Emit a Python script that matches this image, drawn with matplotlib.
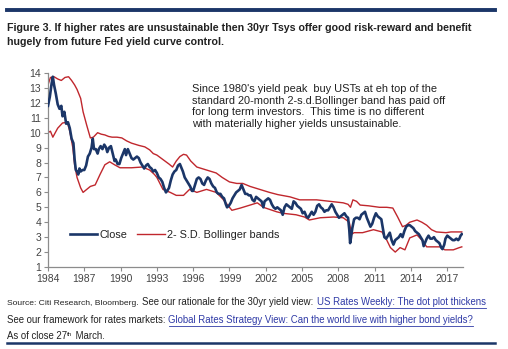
import numpy as np
import matplotlib

matplotlib.use("Agg")
import matplotlib.pyplot as plt
from matplotlib.lines import Line2D

NAVY = "#1b3668"
RED = "#c0272d"
INK = "#222222"
TICK = "#444444"
SPINE = "#8c8c8c"
LINK = "#2f3aa6"

plt.rcParams.update({
    "font.family": ["Liberation Sans", "DejaVu Sans"],
    "font.size": 7.5,
})

# ---- data (30yr UST yield, %) -----------------------------------------------
close_t = [
    1984.0, 1984.15, 1984.3, 1984.4, 1984.5, 1984.65, 1984.8, 1984.95, 1985.1, 1985.2,
    1985.35, 1985.5, 1985.65, 1985.8, 1985.95, 1986.1, 1986.2, 1986.3, 1986.4, 1986.5,
    1986.6, 1986.7, 1986.85, 1987.0, 1987.15, 1987.3, 1987.45, 1987.6, 1987.7, 1987.8,
    1987.95, 1988.1, 1988.2, 1988.35, 1988.5, 1988.65, 1988.8, 1988.9, 1989.05, 1989.2,
    1989.35, 1989.5, 1989.6, 1989.75, 1989.9, 1990.05, 1990.2, 1990.35, 1990.45, 1990.6,
    1990.75, 1990.9, 1991.05, 1991.2, 1991.35, 1991.5, 1991.65, 1991.8, 1991.95, 1992.1,
    1992.25, 1992.4, 1992.55, 1992.7, 1992.85, 1993.0, 1993.15, 1993.3, 1993.45, 1993.6,
    1993.75, 1993.85, 1994.0, 1994.15, 1994.3, 1994.45, 1994.6, 1994.75, 1994.9, 1995.0,
    1995.15, 1995.3, 1995.45, 1995.6, 1995.75, 1995.9, 1996.0, 1996.15, 1996.3, 1996.45,
    1996.6, 1996.75, 1996.9, 1997.05, 1997.2, 1997.35, 1997.5, 1997.65, 1997.8, 1997.95,
    1998.1, 1998.25, 1998.4, 1998.55, 1998.7, 1998.8, 1998.95, 1999.1, 1999.25, 1999.4,
    1999.55, 1999.7, 1999.85, 2000.0, 2000.15, 2000.3, 2000.45, 2000.6, 2000.75, 2000.9,
    2001.05, 2001.2, 2001.35, 2001.5, 2001.65, 2001.8, 2001.9, 2002.05, 2002.2, 2002.35,
    2002.5, 2002.65, 2002.8, 2002.95, 2003.1, 2003.25, 2003.4, 2003.55, 2003.7, 2003.85,
    2004.0, 2004.15, 2004.3, 2004.45, 2004.6, 2004.75, 2004.9, 2005.05, 2005.2, 2005.35,
    2005.5, 2005.65, 2005.8, 2005.95, 2006.1, 2006.25, 2006.4, 2006.55, 2006.7, 2006.85,
    2007.0, 2007.15, 2007.3, 2007.45, 2007.6, 2007.75, 2007.9, 2008.05, 2008.2, 2008.35,
    2008.5, 2008.65, 2008.8, 2008.9, 2008.97, 2009.05, 2009.15, 2009.3, 2009.45, 2009.6,
    2009.75, 2009.9, 2010.05, 2010.2, 2010.35, 2010.5, 2010.65, 2010.8, 2010.95, 2011.1,
    2011.25, 2011.4, 2011.55, 2011.7, 2011.8, 2011.95, 2012.1, 2012.25, 2012.4, 2012.55,
    2012.7, 2012.85, 2013.0, 2013.15, 2013.3, 2013.45, 2013.6, 2013.75, 2013.9, 2014.05,
    2014.2, 2014.35, 2014.5, 2014.65, 2014.8, 2014.95, 2015.05, 2015.15, 2015.3, 2015.45,
    2015.6, 2015.75, 2015.9, 2016.05, 2016.2, 2016.35, 2016.5, 2016.6, 2016.75, 2016.85,
    2017.0, 2017.15, 2017.3, 2017.45, 2017.6, 2017.75, 2017.9, 2018.0, 2018.1, 2018.2,
]
close_v = [
    11.8, 12.4, 13.3, 13.75, 13.2, 12.6, 11.9, 11.6, 11.8, 11.1,
    11.4, 10.6, 10.7, 10.3, 9.6, 9.3, 8.2, 7.5, 7.4, 7.2,
    7.6, 7.4, 7.5, 7.5, 7.8, 8.4, 8.6, 9.0, 9.6, 8.9,
    8.9, 8.6, 8.9, 9.1, 8.9, 9.2, 9.0, 8.7, 9.0, 9.1,
    8.6, 8.1, 8.2, 7.9, 7.9, 8.3, 8.6, 8.9, 8.5, 8.9,
    8.6, 8.3, 8.2, 8.3, 8.4, 8.3, 8.0, 7.8, 7.6, 7.8,
    7.9, 7.7, 7.6, 7.4, 7.5, 7.3, 7.0, 6.9, 6.7, 6.3,
    6.0, 6.1, 6.3, 6.8, 7.2, 7.4, 7.5, 7.8, 7.9, 7.7,
    7.4, 7.0, 6.8, 6.6, 6.4, 6.1, 6.1, 6.5, 6.9, 7.0,
    6.9, 6.6, 6.5, 6.8, 7.0, 6.9, 6.6, 6.4, 6.3, 6.0,
    5.9, 5.9, 5.7, 5.6, 5.2, 5.0, 5.1, 5.3, 5.6, 5.8,
    6.0, 6.1, 6.2, 6.5, 6.2, 5.9, 5.9, 5.8, 5.8, 5.5,
    5.4, 5.7, 5.6, 5.5, 5.4, 5.0, 5.4, 5.5, 5.6, 5.5,
    5.2, 5.0, 4.9, 5.0, 4.9, 4.8, 4.5, 5.0, 5.2, 5.1,
    5.0, 4.9, 5.4, 5.3, 5.1, 5.0, 4.9, 4.6, 4.7, 4.4,
    4.3, 4.5, 4.7, 4.5, 4.7, 5.1, 5.2, 5.0, 4.9, 4.7,
    4.8, 4.8, 5.0, 5.2, 5.0, 4.7, 4.5, 4.3, 4.4, 4.5,
    4.6, 4.4, 4.3, 3.5, 2.6, 3.0, 3.6, 4.2, 4.3, 4.3,
    4.2, 4.5, 4.6, 4.7, 4.3, 4.0, 3.7, 3.9, 4.3, 4.6,
    4.4, 4.3, 4.2, 3.5, 3.0, 2.9, 3.1, 3.3, 2.8, 2.5,
    2.8, 2.9, 3.0, 3.2, 3.0, 3.4, 3.7, 3.8, 3.8, 3.7,
    3.6, 3.4, 3.3, 3.2, 3.0, 2.8, 2.4, 2.6, 2.9, 3.1,
    2.9, 2.9, 3.0, 2.8, 2.7, 2.6, 2.3, 2.2, 2.5, 2.9,
    3.1, 3.0, 2.9, 2.8, 2.8, 2.9, 2.8, 2.9, 3.1, 3.2,
]

upper_t = [
    1984.0, 1984.2, 1984.5, 1984.8, 1985.1, 1985.4, 1985.7, 1985.95, 1986.2, 1986.4,
    1986.7, 1986.9, 1987.2, 1987.5, 1987.75, 1988.1, 1988.4, 1988.7, 1989.0, 1989.3,
    1989.7, 1990.1, 1990.5, 1990.9, 1991.5, 1992.0, 1992.4, 1992.7, 1993.0, 1993.5,
    1994.0, 1994.3, 1994.6, 1994.9, 1995.2, 1995.45, 1995.8, 1996.3, 1996.7, 1997.1,
    1997.5, 1997.9, 1998.4, 1999.0, 1999.6, 2000.1, 2000.7, 2001.5, 2002.3, 2003.0,
    2004.0, 2004.8, 2005.5, 2006.2, 2007.3, 2008.4, 2008.8, 2009.0, 2009.2, 2009.5,
    2009.8, 2010.5, 2011.4, 2012.0, 2012.5, 2012.9, 2013.3, 2013.6, 2013.9, 2014.5,
    2014.9, 2015.3, 2015.7, 2016.1, 2016.9, 2017.3, 2017.7, 2018.2,
]
upper_v = [
    13.2, 13.7, 13.75, 13.6, 13.5, 13.7, 13.75, 13.5, 13.2, 12.9,
    12.3, 11.4, 10.5, 9.65, 9.7, 10.0, 9.9, 9.85, 9.75, 9.7,
    9.7, 9.65, 9.45, 9.3, 9.15, 9.05, 8.85, 8.6, 8.5, 8.2,
    7.9, 7.7, 8.1, 8.4, 8.55, 8.5, 8.1, 7.7, 7.6, 7.5,
    7.4, 7.3, 7.0, 6.7, 6.6, 6.6, 6.4, 6.2, 6.0, 5.85,
    5.7, 5.5, 5.5, 5.5, 5.4, 5.3, 5.2, 5.0, 5.5, 5.4,
    5.15, 5.1, 5.0, 5.0, 4.95, 4.35, 3.7, 3.8, 4.0, 4.15,
    4.0, 3.8, 3.5, 3.35, 3.3, 3.35, 3.35, 3.35,
]

lower_t = [
    1984.0, 1984.2, 1984.4, 1984.8, 1985.2, 1985.6, 1985.8, 1986.05, 1986.2, 1986.4,
    1986.7, 1986.9, 1987.2, 1987.5, 1987.9, 1988.3, 1988.7, 1989.1, 1989.5, 1989.95,
    1990.9, 1991.8, 1992.4, 1992.8, 1993.0, 1993.5, 1994.1, 1994.6, 1995.2, 1995.7,
    1996.3, 1997.1, 1997.9, 1998.4, 1998.8, 1999.2, 1999.9, 2000.7, 2001.3, 2001.8,
    2002.9, 2003.4, 2004.5, 2005.2, 2005.6, 2006.5, 2007.6, 2008.4, 2008.9, 2009.1,
    2009.3, 2010.0, 2010.9, 2011.6, 2012.0, 2012.3, 2012.7, 2013.1, 2013.5, 2013.9,
    2014.5, 2014.9, 2015.3, 2015.8, 2016.4, 2016.8, 2017.5, 2018.0, 2018.2,
]
lower_v = [
    10.0, 10.1, 9.7, 10.3, 10.65, 10.7, 10.1, 9.0, 7.85, 7.0,
    6.3, 6.0, 6.2, 6.4, 6.5, 7.2, 7.85, 8.05, 7.85, 7.65,
    7.65, 7.7, 7.5, 7.2, 7.0, 6.2, 6.0, 5.8, 5.8, 6.2,
    6.0, 6.2, 6.0, 5.6, 5.2, 4.8, 4.95, 5.15, 5.3, 5.0,
    4.7, 4.6, 4.5, 4.35, 4.15, 4.3, 4.35, 4.3, 4.0, 3.2,
    3.3, 3.3, 3.5, 3.35, 2.8, 2.3, 2.0, 2.3, 2.15, 2.95,
    3.15, 2.8, 2.35, 2.35, 2.35, 2.15, 2.15, 2.3, 2.35,
]

x_ticks = list(range(1984, 2018, 3))
y_ticks = list(range(1, 15))

TITLE = ("Figure 3. If higher rates are unsustainable then 30yr Tsys offer good risk-reward and benefit\n"
         "hugely from future Fed yield curve control.")
NOTE = ("Since 1980's yield peak  buy USTs at eh top of the\n"
        "standard 20-month 2-s.d.Bollinger band has paid off\n"
        "for long term investors.  This time is no different\n"
        "with materially higher yields unsustainable.")

W, H = 508, 349
fig = plt.figure(figsize=(W / 100, H / 100), dpi=100)
ax = fig.add_axes([48 / W, 1 - 267 / H, (463 - 48) / W, (267 - 73) / H])

ax.plot(close_t, close_v, color=NAVY, lw=1.9, label="Close", zorder=3)
ax.plot(upper_t, upper_v, color=RED, lw=1.0, label="2- S.D. Bollinger bands", zorder=2)
ax.plot(lower_t, lower_v, color=RED, lw=1.0, zorder=2)

ax.set_xlim(1984, 2018.3)
ax.set_ylim(1, 14)
ax.set_xticks(x_ticks)
ax.set_yticks(y_ticks)
ax.tick_params(length=3, width=0.8, color=SPINE, labelcolor=TICK, labelsize=7.5, pad=2)
for side in ("top", "right"):
    ax.spines[side].set_visible(False)
for side in ("left", "bottom"):
    ax.spines[side].set_color(SPINE)
    ax.spines[side].set_linewidth(0.9)

ax.legend(loc="center left", bbox_to_anchor=((70 - 48) / 415, (267 - 235) / 194),
          ncol=2, frameon=False, fontsize=7.8, handlelength=2.5, handletextpad=0.25,
          columnspacing=0.9, borderpad=0, borderaxespad=0, labelcolor=INK)

fig.text(192 / W, 1 - 84 / H, NOTE, fontsize=7.9, color=INK, va="top", ha="left",
         linespacing=1.2)

# title and rules
fig.add_artist(Line2D([7 / W, 495 / W], [1 - 10 / H, 1 - 10 / H], color=NAVY, lw=2.8))
fig.text(7 / W, 1 - 23 / H, TITLE, fontsize=7.7, fontweight="bold", color=INK,
         va="top", ha="left", linespacing=1.45)
fig.add_artist(Line2D([7 / W, 495 / W], [1 - 343 / H, 1 - 343 / H], color=NAVY, lw=1.8))

# footer: runs of text placed one after another
renderer = fig.canvas.get_renderer()


def run(x_px, y_px, s, size=6.9, color=INK, link=False):
    t = fig.text(x_px / W, 1 - y_px / H, s, fontsize=size, color=color, va="baseline",
                 ha="left")
    bb = t.get_window_extent(renderer)
    if link:
        y0 = bb.y0 - 1.0
        fig.add_artist(Line2D([bb.x0 / W, bb.x1 / W], [y0 / H, y0 / H], color=color, lw=0.6))
    return bb.x1


x = run(7, 305, "Source: Citi Research, Bloomberg.", size=6.1)
x = run(x + 3, 305, "See our rationale for the 30yr yield view:")
run(x + 4, 305, "US Rates Weekly: The dot plot thickens", color=LINK, link=True)
x = run(7, 323, "See our framework for rates markets:")
run(x + 3, 323, "Global Rates Strategy View: Can the world live with higher bond yields?",
    color=LINK, link=True)
x = run(7, 339, "As of close 27")
x = run(x, 335.5, "th", size=4.5)
run(x + 1, 339, " March.")

fig.savefig("out.png", dpi=100)
